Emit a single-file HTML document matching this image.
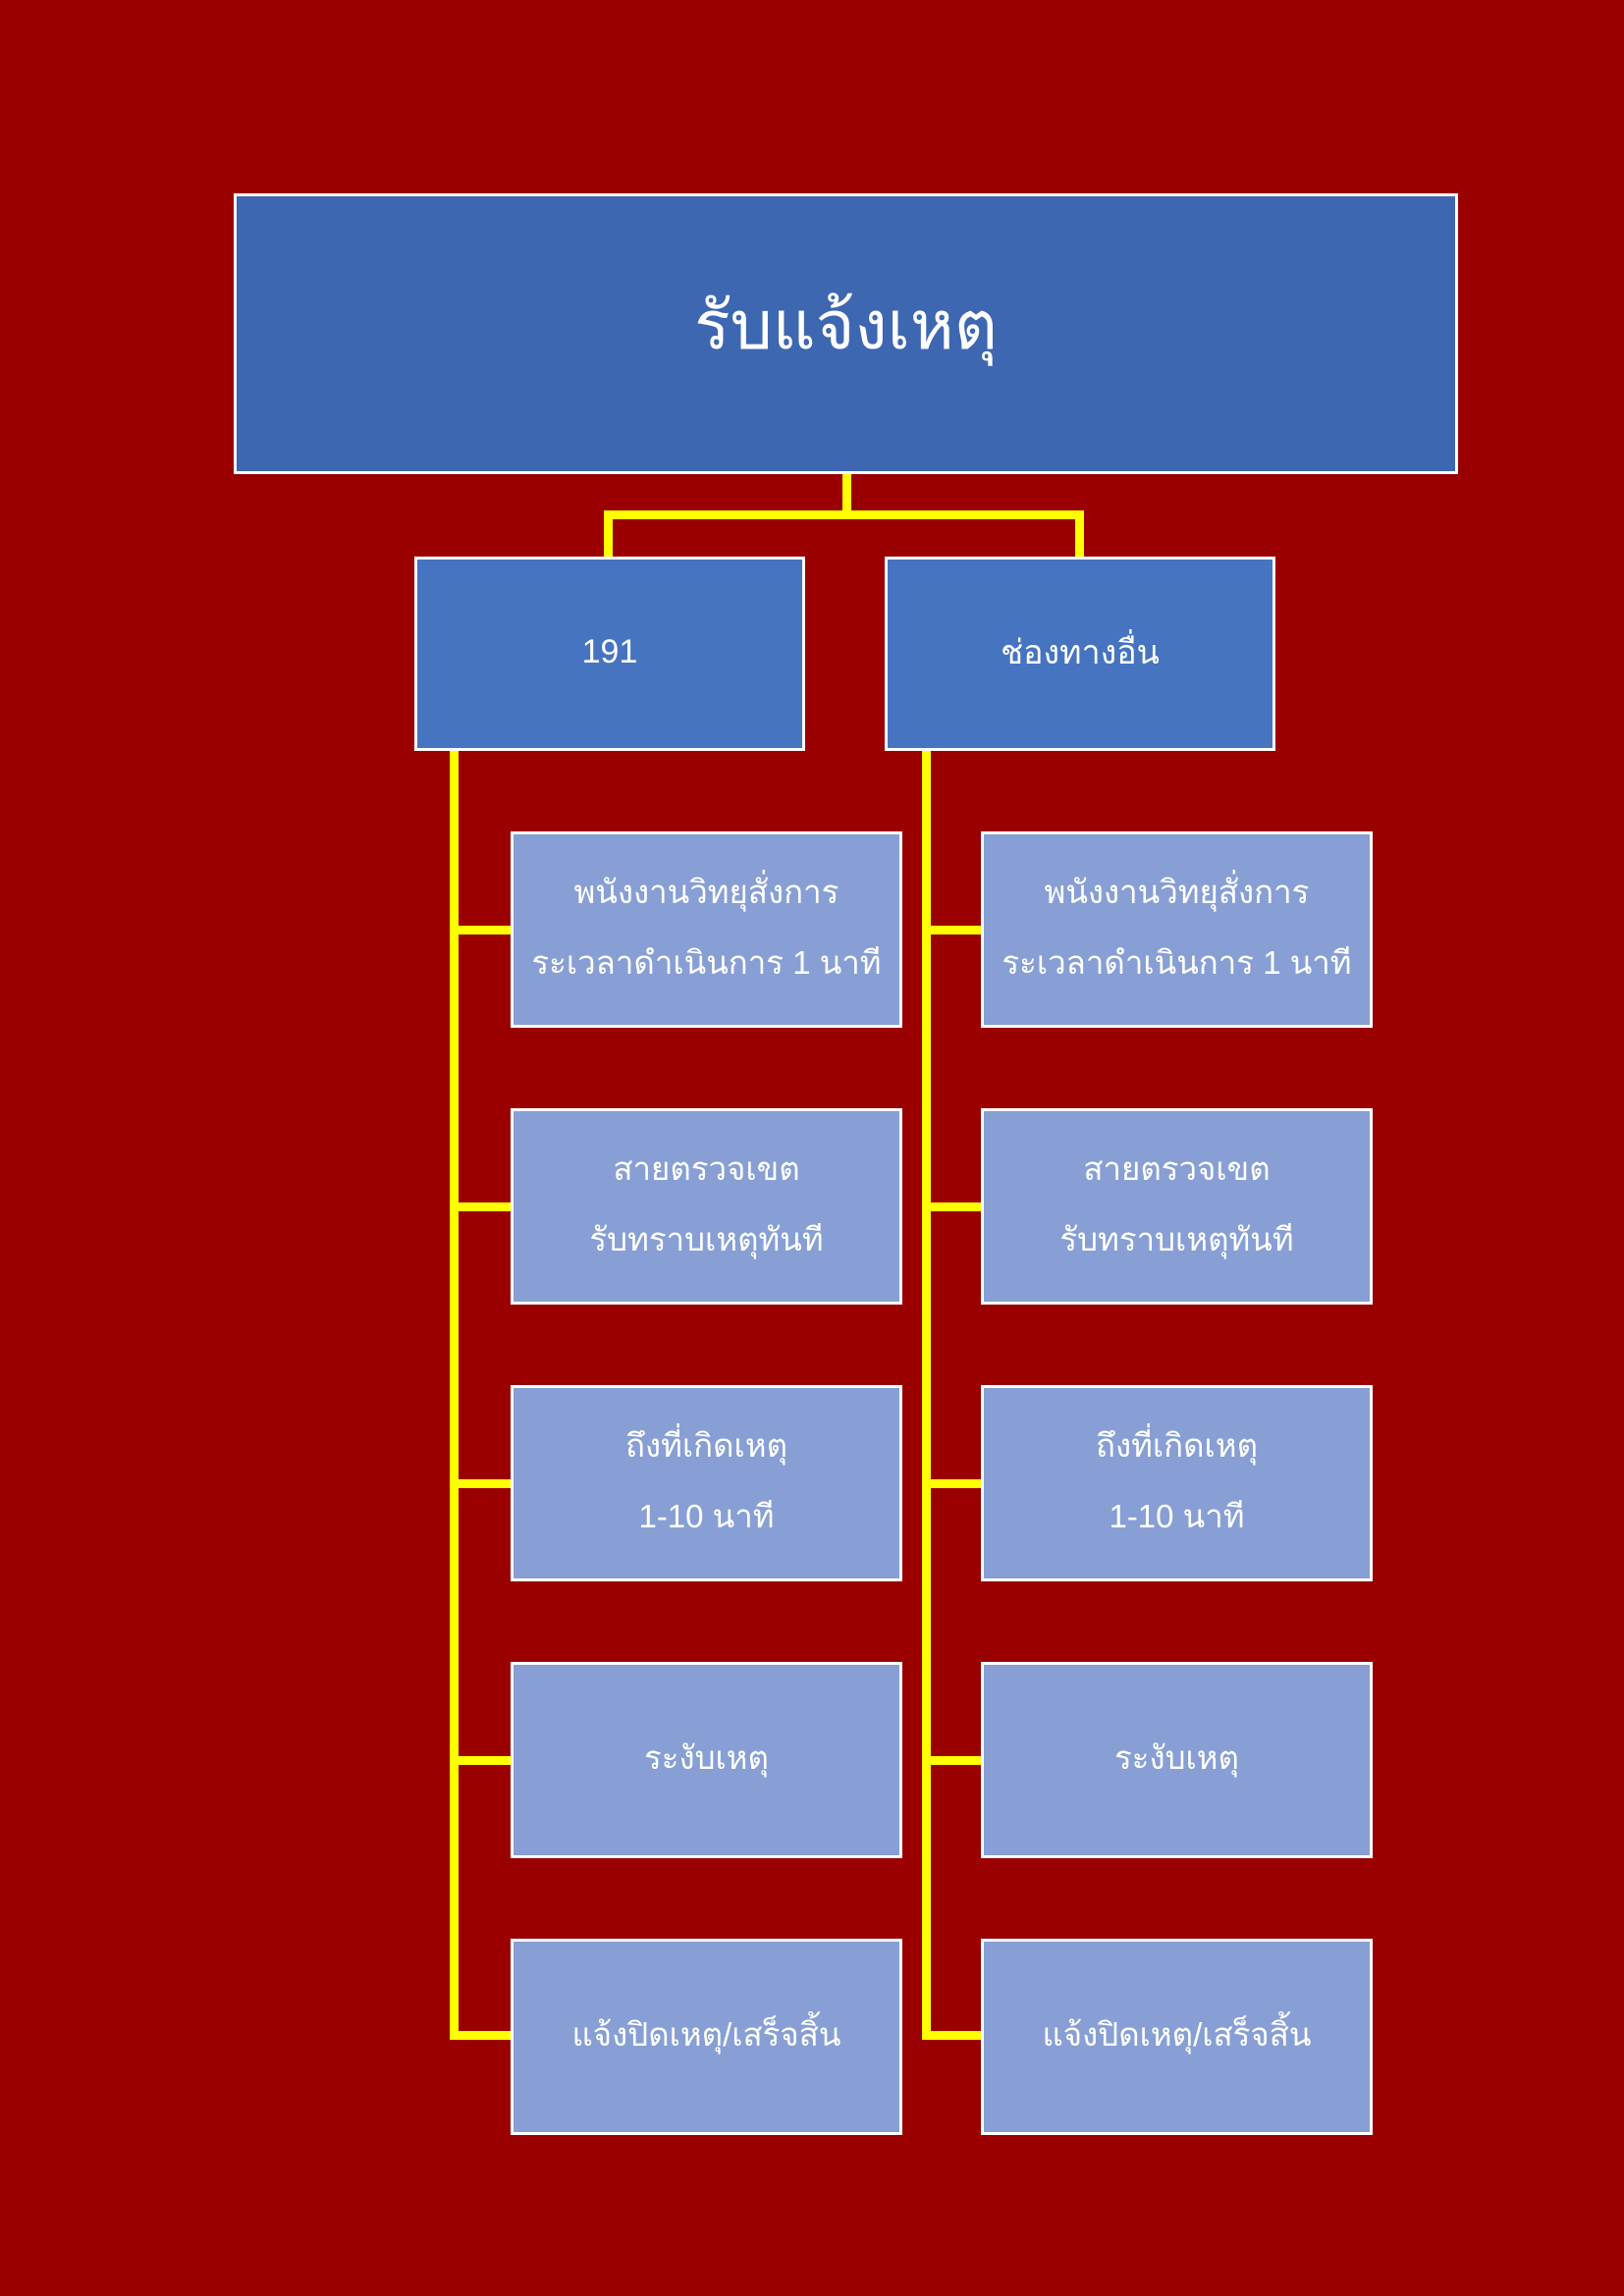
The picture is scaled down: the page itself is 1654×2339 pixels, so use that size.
<!DOCTYPE html>
<html><head><meta charset="utf-8"><style>
*{margin:0;padding:0;box-sizing:border-box}
body{width:1654px;height:2339px;background:#9A0000;position:relative;overflow:hidden;font-family:"Liberation Sans","Noto Sans CJK SC",sans-serif;color:#fff}
.b{position:absolute;border:3px solid #fff;display:flex;flex-direction:column;align-items:center;justify-content:center;text-align:center}
.c{background:#879FD4;width:399px;height:200px;font-size:33px;line-height:72px;padding-bottom:4px}
.l2{background:#4674C1;top:567px;width:398px;height:198px;font-size:34px;padding-bottom:4px}
.y{position:absolute;background:#FFFF00}
</style></head><body>
<div class="y" style="left:858px;top:482px;width:9px;height:46px"></div>
<div class="y" style="left:615px;top:520px;width:489px;height:9px"></div>
<div class="y" style="left:615px;top:520px;width:9px;height:48px"></div>
<div class="y" style="left:1095px;top:520px;width:9px;height:48px"></div>
<div class="y" style="left:458px;top:765px;width:9px;height:1313px"></div>
<div class="y" style="left:939px;top:765px;width:9px;height:1313px"></div>
<div class="y" style="left:458px;top:943px;width:64px;height:9px"></div>
<div class="y" style="left:458px;top:1225px;width:64px;height:9px"></div>
<div class="y" style="left:458px;top:1507px;width:64px;height:9px"></div>
<div class="y" style="left:458px;top:1789px;width:64px;height:9px"></div>
<div class="y" style="left:458px;top:2069px;width:64px;height:9px"></div>
<div class="y" style="left:939px;top:943px;width:62px;height:9px"></div>
<div class="y" style="left:939px;top:1225px;width:62px;height:9px"></div>
<div class="y" style="left:939px;top:1507px;width:62px;height:9px"></div>
<div class="y" style="left:939px;top:1789px;width:62px;height:9px"></div>
<div class="y" style="left:939px;top:2069px;width:62px;height:9px"></div>

<div class="b" style="left:238px;top:197px;width:1247px;height:286px;background:#3D67B0;font-size:68px;padding-bottom:18px">รับแจ้งเหตุ</div>
<div class="b l2" style="left:422px">191</div>
<div class="b l2" style="left:901px">ช่องทางอื่น</div>

<div class="b c" style="left:520px;top:847px">พนังงานวิทยุสั่งการ<br>ระเวลาดำเนินการ 1 นาที</div>
<div class="b c" style="left:520px;top:1129px">สายตรวจเขต<br>รับทราบเหตุทันที</div>
<div class="b c" style="left:520px;top:1411px">ถึงที่เกิดเหตุ<br>1-10 นาที</div>
<div class="b c" style="left:520px;top:1693px">ระงับเหตุ</div>
<div class="b c" style="left:520px;top:1975px">แจ้งปิดเหตุ/เสร็จสิ้น</div>

<div class="b c" style="left:999px;top:847px">พนังงานวิทยุสั่งการ<br>ระเวลาดำเนินการ 1 นาที</div>
<div class="b c" style="left:999px;top:1129px">สายตรวจเขต<br>รับทราบเหตุทันที</div>
<div class="b c" style="left:999px;top:1411px">ถึงที่เกิดเหตุ<br>1-10 นาที</div>
<div class="b c" style="left:999px;top:1693px">ระงับเหตุ</div>
<div class="b c" style="left:999px;top:1975px">แจ้งปิดเหตุ/เสร็จสิ้น</div>
</body></html>
